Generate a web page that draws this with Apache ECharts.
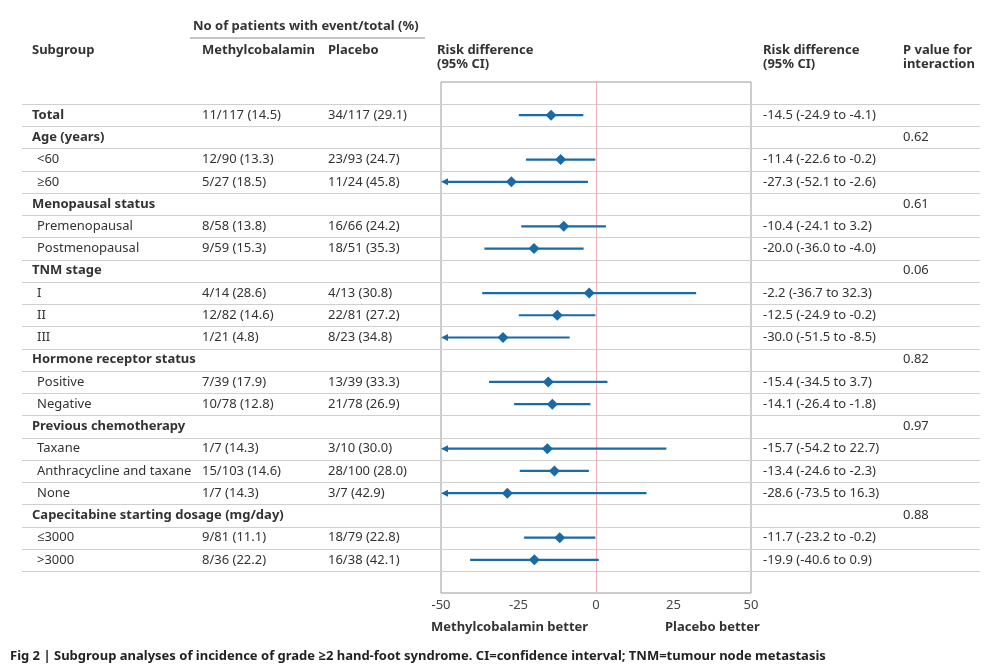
<!DOCTYPE html>
<html><head><meta charset="utf-8">
<script src="https://cdn.jsdelivr.net/npm/echarts@6.0.0/dist/echarts.min.js"></script>
<style>html,body{margin:0;padding:0;background:#fff}#c{width:1000px;height:664px}</style>
</head><body><div id="c"></div>
<script>
const subgroups = ['Total','Age (years)','<60','≥60','Menopausal status','Premenopausal','Postmenopausal','TNM stage','I','II','III','Hormone receptor status','Positive','Negative','Previous chemotherapy','Taxane','Anthracycline and taxane','None','Capecitabine starting dosage (mg/day)','≤3000','>3000'];
const rowType = ['total','head','sub','sub','head','sub','sub','head','sub','sub','sub','head','sub','sub','head','sub','sub','sub','head','sub','sub'];
const methyl = ['11/117 (14.5)','','12/90 (13.3)','5/27 (18.5)','','8/58 (13.8)','9/59 (15.3)','','4/14 (28.6)','12/82 (14.6)','1/21 (4.8)','','7/39 (17.9)','10/78 (12.8)','','1/7 (14.3)','15/103 (14.6)','1/7 (14.3)','','9/81 (11.1)','8/36 (22.2)'];
const placebo = ['34/117 (29.1)','','23/93 (24.7)','11/24 (45.8)','','16/66 (24.2)','18/51 (35.3)','','4/13 (30.8)','22/81 (27.2)','8/23 (34.8)','','13/39 (33.3)','21/78 (26.9)','','3/10 (30.0)','28/100 (28.0)','3/7 (42.9)','','18/79 (22.8)','16/38 (42.1)'];
const riskDiff = [-14.5,null,-11.4,-27.3,null,-10.4,-20.0,null,-2.2,-12.5,-30.0,null,-15.4,-14.1,null,-15.7,-13.4,-28.6,null,-11.7,-19.9];
const ciLow = [-24.9,null,-22.6,-52.1,null,-24.1,-36.0,null,-36.7,-24.9,-51.5,null,-34.5,-26.4,null,-54.2,-24.6,-73.5,null,-23.2,-40.6];
const ciHigh = [-4.1,null,-0.2,-2.6,null,3.2,-4.0,null,32.3,-0.2,-8.5,null,3.7,-1.8,null,22.7,-2.3,16.3,null,-0.2,0.9];
const pInteraction = ['','0.62','','','0.61','','','0.06','','','','0.82','','','0.97','','','','0.88','',''];
const xTicks = [-50,-25,0,25,50];

const FONT = '"Noto Sans", "Open Sans", sans-serif';
const TXT = '#333333';
const BLUE = '#1a6aa6';
const xMin = xTicks[0], xMax = xTicks[xTicks.length-1];

const chart = echarts.init(document.getElementById('c'), null, {renderer:'canvas'});

function txt(x, y, text, bold, extra){
  return Object.assign({type:'text', x:x, y:y, style:{text:text, font:(bold?'bold ':'')+'13px '+FONT, fill:TXT, verticalAlign:'middle', textVerticalAlign:'middle'}}, extra||{});
}

const fmt = v => v.toFixed(1);

const option = {
  animation:false,
  backgroundColor:'#fff',
  grid:{left:441, right:249, top:82, bottom:71, show:true, borderColor:'#9a9a9a', borderWidth:1, backgroundColor:'transparent'},
  xAxis:{type:'value', min:xMin, max:xMax, interval:25,
    axisLine:{show:false}, axisTick:{show:false}, splitLine:{show:false},
    axisLabel:{color:'#444', fontSize:13, fontFamily:FONT, margin:6}},
  yAxis:{type:'value', inverse:true, min:-1.49, max:21.49, show:false},
  graphic:[
    txt(193, 26, 'No of patients with event/total (%)', true),
    {type:'line', shape:{x1:190, y1:38, x2:425, y2:38}, style:{stroke:'#888', lineWidth:1}},
    txt(32, 50, 'Subgroup', true),
    txt(202, 50, 'Methylcobalamin', true),
    txt(328, 50, 'Placebo', true),
    txt(437, 50, 'Risk difference', true),
    txt(437, 64, '(95% CI)', true),
    txt(763, 50, 'Risk difference', true),
    txt(763, 64, '(95% CI)', true),
    txt(903, 50, 'P value for', true),
    txt(903, 64, 'interaction', true),
    txt(431, 627, 'Methylcobalamin better', true),
    txt(665, 627, 'Placebo better', true),
    txt(10, 656, 'Fig 2 | Subgroup analyses of incidence of grade ≥2 hand-foot syndrome. CI=confidence interval; TNM=tumour node metastasis', true, {style:{text:'Fig 2 | Subgroup analyses of incidence of grade ≥2 hand-foot syndrome. CI=confidence interval; TNM=tumour node metastasis', font:'bold 13px '+FONT, fill:'#222', verticalAlign:'middle', textVerticalAlign:'middle'}})
  ],
  series:[
    {
      type:'custom', name:'separators', clip:false, silent:true, z:1,
      data: Array.from({length: subgroups.length+1}, (_, k) => [0, k-0.5]),
      renderItem:(params, api) => {
        const y = Math.round(api.coord([0, api.value(1)])[1]) + 0.5;
        return {type:'line', shape:{x1:22, y1:y, x2:980, y2:y}, style:{stroke:'#cfcfcf', lineWidth:1.2}};
      }
    },
    {
      type:'custom', name:'table', clip:false, silent:true, z:3,
      data: subgroups.map((_, i) => [0, i]),
      renderItem:(params, api) => {
        const i = params.dataIndex;
        const y = api.coord([0, i])[1];
        const t = rowType[i];
        const ch = [];
        ch.push(txt(t==='sub'?37:32, y, subgroups[i], t!=='sub'));
        if (methyl[i]) ch.push(txt(202, y, methyl[i], false));
        if (placebo[i]) ch.push(txt(328, y, placebo[i], false));
        if (riskDiff[i] !== null) ch.push(txt(763, y, fmt(riskDiff[i])+' ('+fmt(ciLow[i])+' to '+fmt(ciHigh[i])+')', false));
        if (pInteraction[i]) ch.push(txt(903, y, pInteraction[i], false));
        return {type:'group', children:ch};
      }
    },
    {
      type:'custom', name:'ci', clip:false, z:4,
      data: riskDiff.map((v, i) => v === null ? null : [ciLow[i], ciHigh[i], i]).filter(d => d),
      encode:{x:[0,1], y:2},
      renderItem:(params, api) => {
        const lo = api.value(0), hi = api.value(1), i = api.value(2);
        const clipped = lo < xMin;
        const p1 = api.coord([Math.max(lo, xMin), i]);
        const p2 = api.coord([Math.min(hi, xMax), i]);
        const ch = [{type:'line', shape:{x1:p1[0] + (clipped?3:0), y1:p1[1], x2:p2[0], y2:p2[1]}, style:{stroke:BLUE, lineWidth:2.2}}];
        if (clipped) {
          ch.push({type:'polygon', shape:{points:[[p1[0], p1[1]], [p1[0]+7, p1[1]-3.5], [p1[0]+7, p1[1]+3.5]]}, style:{fill:BLUE}});
        }
        return {type:'group', children:ch};
      }
    },
    {
      type:'scatter', name:'rd', z:5, symbol:'diamond', symbolSize:[11,11],
      itemStyle:{color:BLUE, opacity:1},
      data: riskDiff.map((v, i) => v === null ? null : [v, i]).filter(d => d),
      markLine:{silent:true, symbol:'none', label:{show:false}, lineStyle:{color:'#f0b3ba', type:'solid', width:1}, data:[{xAxis:0}], z:2}
    }
  ]
};
chart.setOption(option);
</script>
</body></html>
